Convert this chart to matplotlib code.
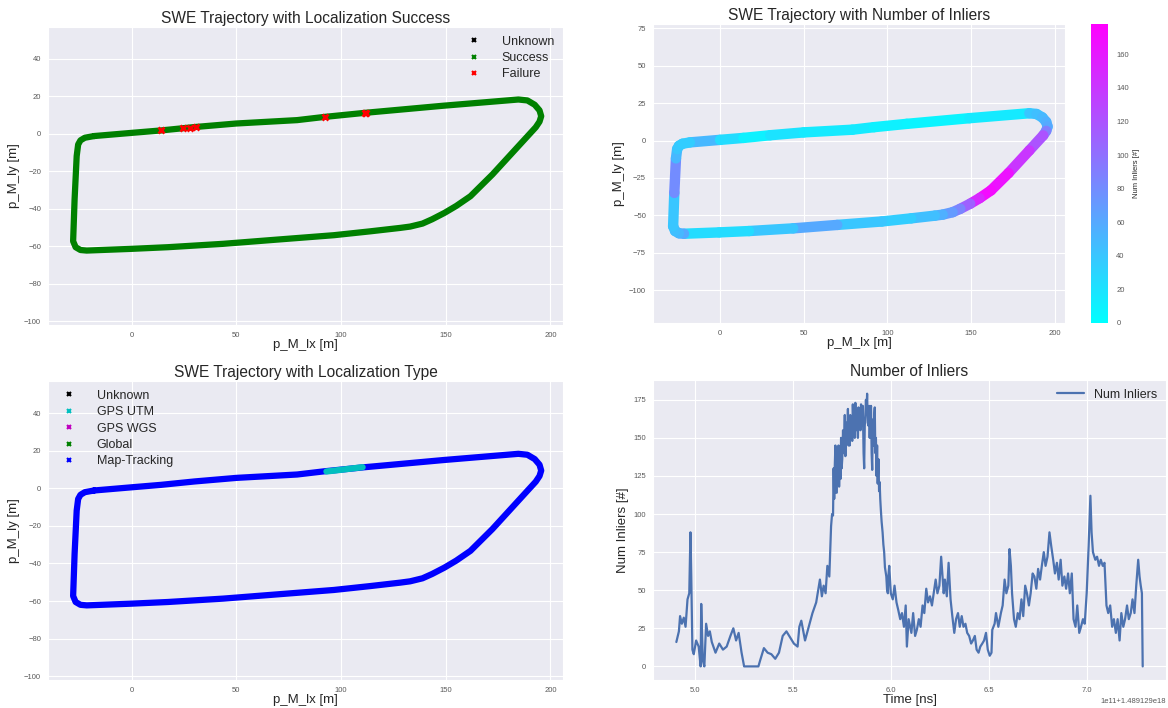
import numpy as np
import matplotlib
matplotlib.use("Agg")
import matplotlib.pyplot as plt
import seaborn as sns
from matplotlib.collections import LineCollection

sns.set_style("darkgrid")
plt.rcParams["font.family"] = ["Liberation Sans", "DejaVu Sans"]

# ---- trajectory waypoints (p_M_I, metres) ----
traj_x = [-18, 0, 14, 30, 50, 79, 92, 111.5, 149, 184.7,
          189, 192.5, 194.8, 195.6, 194.8, 193, 184.7, 172.3, 161.8, 155,
          149.4, 143.5, 138.9, 133, 128.3, 114.2, 96.6, 70, 43.7, 17.3,
          -0.4, -21.5, -24.5, -26.8, -28, -27.3, -26.3, -25.6, -24.5, -22.4,
          -18]
traj_y = [-1.2, 0.5, 1.8, 3.6, 5.5, 7.3, 9, 11.2, 15, 18.3,
          17.8, 15.5, 12.5, 9.4, 6.5, 3.5, -6.6, -21.7, -33.3, -38.5,
          -42.2, -45.6, -47.9, -49.5, -50.2, -52, -54.1, -56.4, -58.7, -60.5,
          -61.4, -62.3, -62, -60.5, -57.3, -35, -11.9, -5.7, -3.5, -2.1,
          -1.2]
traj_inliers = [50, 25, 10, 20, 15, 15, 10, 8, 15, 40,
                45, 50, 55, 60, 90, 120, 140, 165, 170, 150,
                110, 85, 70, 55, 45, 35, 40, 60, 40, 25,
                25, 60, 50, 45, 40, 80, 50, 40, 38, 35,
                40]

# localization failures
fail_x = [14, 24.3, 27.8, 30.8, 92.3, 111.2, 112]
fail_y = [1.8, 3.0, 3.2, 3.7, 9.1, 11.2, 11.2]

# GPS UTM stretch of the trajectory
utm_x = [93, 100, 110.3]
utm_y = [8.9, 9.8, 11.2]

# ---- number of inliers over time (time in 1e11 ns after 1.489129e18) ----
t_start = [4.905, 4.918, 4.924, 4.933, 4.943, 4.952, 4.962, 4.971, 4.977, 4.981,
           4.987, 4.994, 5.006, 5.019, 5.029, 5.032, 5.040, 5.048, 5.057, 5.067,
           5.076, 5.086, 5.105, 5.124, 5.143, 5.162, 5.181, 5.196, 5.210, 5.223,
           5.238, 5.251, 5.276, 5.324, 5.333, 5.352, 5.371, 5.390, 5.410, 5.429,
           5.448, 5.467, 5.486, 5.505, 5.524, 5.533, 5.543, 5.562, 5.581, 5.600,
           5.619, 5.638, 5.648, 5.657, 5.667, 5.676, 5.686]
n_start = [16, 23, 33, 28, 32, 26, 44, 48, 88, 60,
           11, 8, 17, 13, 0, 41, 4, 0, 28, 20,
           23, 16, 9, 15, 11, 13, 20, 25, 17, 22,
           9, 0, 0, 0, 4, 12, 9, 8, 5, 9,
           20, 23, 19, 15, 13, 26, 30, 17, 26, 35,
           42, 57, 46, 53, 48, 66, 59]

t_peak = [5.695, 5.700, 5.705, 5.708, 5.711, 5.714, 5.717, 5.720, 5.724, 5.727,
          5.730, 5.733, 5.736, 5.740, 5.743, 5.746, 5.749, 5.752, 5.756, 5.759,
          5.762, 5.765, 5.768, 5.771, 5.774, 5.777, 5.781, 5.784, 5.787, 5.790,
          5.793, 5.797, 5.800, 5.803, 5.806, 5.810, 5.813, 5.816, 5.819, 5.822,
          5.826, 5.829, 5.832, 5.835, 5.838, 5.841, 5.845, 5.848, 5.851, 5.854,
          5.857, 5.861, 5.864, 5.867, 5.870, 5.873, 5.876, 5.879, 5.882, 5.886,
          5.889, 5.892, 5.895, 5.899, 5.902, 5.905, 5.908, 5.911, 5.914, 5.918,
          5.921, 5.924, 5.927, 5.930, 5.933, 5.937, 5.940, 5.943, 5.946, 5.949,
          5.953, 5.958, 5.962, 5.966, 5.970, 5.977, 5.981, 5.985, 5.988, 5.992]
n_peak = [92, 100, 99, 130, 110, 132, 145, 114, 114, 143,
          125, 145, 118, 140, 123, 150, 130, 136, 155, 140,
          149, 165, 138, 148, 160, 150, 169, 145, 158, 145,
          165, 150, 160, 148, 172, 156, 165, 150, 173, 155,
          168, 160, 150, 170, 158, 165, 155, 172, 158, 165,
          171, 140, 130, 158, 165, 175, 167, 179, 160, 158,
          171, 150, 165, 171, 140, 129, 162, 145, 162, 170,
          140, 150, 125, 145, 120, 136, 115, 121, 110, 103,
          95, 88, 80, 75, 65, 59, 50, 48, 60, 66]

t_end = [6.000, 6.010, 6.019, 6.029, 6.038, 6.048, 6.057, 6.067, 6.076,
         6.082, 6.091, 6.105, 6.114, 6.124, 6.133, 6.143, 6.152, 6.162, 6.171,
         6.181, 6.190, 6.200, 6.210, 6.219, 6.229, 6.238, 6.248, 6.257, 6.263,
         6.270, 6.276, 6.286, 6.295, 6.305, 6.314, 6.324, 6.333, 6.343, 6.352,
         6.362, 6.371, 6.381, 6.390, 6.400, 6.410, 6.419, 6.429, 6.438, 6.448,
         6.457, 6.467, 6.476, 6.486, 6.495, 6.505, 6.514, 6.518, 6.530, 6.537,
         6.549, 6.562, 6.571, 6.581, 6.590, 6.600, 6.606, 6.613, 6.619, 6.629,
         6.638, 6.648, 6.657, 6.667, 6.676, 6.686, 6.695, 6.705, 6.714, 6.724,
         6.733, 6.743, 6.752, 6.762, 6.771, 6.781, 6.790, 6.800, 6.810, 6.819,
         6.829, 6.838, 6.848, 6.857, 6.867, 6.876, 6.886, 6.895, 6.905, 6.914,
         6.924, 6.933, 6.943, 6.952, 6.962, 6.971, 6.981, 6.990, 7.000, 7.010,
         7.019, 7.025, 7.032, 7.044, 7.053, 7.063, 7.072, 7.082, 7.091, 7.101,
         7.110, 7.120, 7.130, 7.139, 7.149, 7.158, 7.168, 7.177, 7.187, 7.196,
         7.206, 7.215, 7.225, 7.234, 7.244, 7.253, 7.263, 7.270, 7.276, 7.282,
         7.286]
n_end = [48, 44, 53, 42, 37, 31, 35, 26, 40,
         13, 31, 22, 35, 20, 24, 31, 26, 40, 35,
         51, 42, 46, 40, 48, 57, 48, 53, 72, 61,
         48, 57, 46, 68, 44, 33, 22, 31, 35, 26,
         33, 26, 28, 22, 20, 15, 17, 20, 11, 9,
         13, 15, 17, 22, 11, 7, 9, 24, 28, 35,
         26, 35, 40, 57, 48, 53, 77, 66, 48, 31,
         26, 35, 31, 44, 33, 53, 48, 40, 48, 61,
         59, 51, 64, 57, 66, 75, 66, 72, 88, 79,
         70, 61, 68, 57, 70, 53, 59, 51, 61, 48,
         61, 31, 26, 40, 22, 26, 31, 28, 48, 79,
         112, 88, 75, 70, 72, 66, 70, 66, 68, 40,
         35, 40, 26, 31, 22, 31, 17, 35, 26, 31,
         40, 31, 35, 44, 35, 53, 70, 59, 53, 48,
         0]

T_OFFSET = 1.489129e18
T_SCALE = 1e11
t_ns = np.array(t_start + t_peak + t_end) * T_SCALE + T_OFFSET
num_inliers = n_start + n_peak + n_end

TICK_FS = 5.5
LABEL_FS = 9.5
TITLE_FS = 11.2
LEGEND_FS = 9
TICK_COLOR = "0.35"

XLIM = (-40, 206)


def style_axes(ax, title, xlabel, ylabel):
    ax.set_title(title, fontsize=TITLE_FS, color="0.15", pad=3)
    ax.set_xlabel(xlabel, fontsize=LABEL_FS, color="0.15", labelpad=0)
    ax.set_ylabel(ylabel, fontsize=LABEL_FS, color="0.15", labelpad=3)
    ax.tick_params(labelsize=TICK_FS, colors=TICK_COLOR, pad=1.5)


fig = plt.figure(figsize=(11.68, 7.08), dpi=100)

# ---- top left: localization success ----
ax1 = fig.add_axes([0.0411, 0.5410, 0.4409, 0.4209])
ax1.plot(traj_x, traj_y, color="g", lw=4.5, solid_capstyle="round",
         solid_joinstyle="round", zorder=2)
ax1.plot(fail_x, fail_y, "x", color="r", ms=4, mew=2, zorder=3)
ax1.plot([], [], "x", color="k", ms=3, mew=1.5, label="Unknown")
ax1.plot([], [], "x", color="g", ms=3, mew=1.5, label="Success")
ax1.plot([], [], "x", color="r", ms=3, mew=1.5, label="Failure")
ax1.set_xlim(*XLIM)
ax1.set_ylim(-102, 57)
ax1.set_xticks([0, 50, 100, 150, 200])
ax1.set_yticks([-100, -80, -60, -40, -20, 0, 20, 40])
ax1.legend(loc="upper right", fontsize=LEGEND_FS, frameon=False,
           labelspacing=0.35, handletextpad=1.2, borderaxespad=0.3)
style_axes(ax1, "SWE Trajectory with Localization Success", "p_M_lx [m]", "p_M_ly [m]")

# ---- top right: number of inliers along trajectory ----
ax2 = fig.add_axes([0.5591, 0.5438, 0.3527, 0.4223])
pts = np.column_stack([traj_x, traj_y])
segs = np.stack([pts[:-1], pts[1:]], axis=1)
lc = LineCollection(segs, cmap="cool", linewidths=7.5, capstyle="round",
                    joinstyle="round")
lc.set_array(np.array(traj_inliers[:-1]))
lc.set_clim(0, 178)
ax2.add_collection(lc)
ax2.set_xlim(*XLIM)
ax2.set_ylim(-122, 78)
ax2.set_xticks([0, 50, 100, 150, 200])
ax2.set_yticks([-100, -75, -50, -25, 0, 25, 50, 75])
style_axes(ax2, "SWE Trajectory with Number of Inliers", "p_M_lx [m]", "p_M_ly [m]")

cax = fig.add_axes([0.9341, 0.5438, 0.01455, 0.4223])
cb = fig.colorbar(lc, cax=cax)
cb.outline.set_visible(False)
cb.set_ticks([0, 20, 40, 60, 80, 100, 120, 140, 160])
cb.ax.tick_params(labelsize=TICK_FS, colors=TICK_COLOR, length=0, pad=6)
cb.set_label("Num Inliers [#]", fontsize=TICK_FS, color="0.15", labelpad=3)

# ---- bottom left: localization type ----
ax3 = fig.add_axes([0.0411, 0.0395, 0.4409, 0.4223])
ax3.plot(traj_x, traj_y, color="b", lw=4.5, solid_capstyle="round",
         solid_joinstyle="round", zorder=2)
ax3.plot(utm_x, utm_y, color="c", lw=4.5, zorder=3)
for lab, col in [("Unknown", "k"), ("GPS UTM", "c"), ("GPS WGS", "m"),
                 ("Global", "g"), ("Map-Tracking", "b")]:
    ax3.plot([], [], "x", color=col, ms=3, mew=1.5, label=lab)
ax3.set_xlim(*XLIM)
ax3.set_ylim(-102, 57)
ax3.set_xticks([0, 50, 100, 150, 200])
ax3.set_yticks([-100, -80, -60, -40, -20, 0, 20, 40])
ax3.legend(loc="upper left", fontsize=LEGEND_FS, frameon=False,
           labelspacing=0.35, handletextpad=1.2, borderaxespad=0.3)
style_axes(ax3, "SWE Trajectory with Localization Type", "p_M_lx [m]", "p_M_ly [m]")

# ---- bottom right: inliers over time ----
ax4 = fig.add_axes([0.5591, 0.0395, 0.4392, 0.4237])
ax4.plot(t_ns, num_inliers, color="#4C72B0", lw=1.6, label="Num Inliers")
ax4.legend(loc="upper right", fontsize=LEGEND_FS, frameon=False,
           handlelength=2.2, borderaxespad=0.3)
style_axes(ax4, "Number of Inliers", "Time [ns]", "Num Inliers [#]")
ax4.xaxis.get_offset_text().set_fontsize(TICK_FS)
ax4.xaxis.get_offset_text().set_color(TICK_COLOR)

fig.savefig("out.png", dpi=100)
